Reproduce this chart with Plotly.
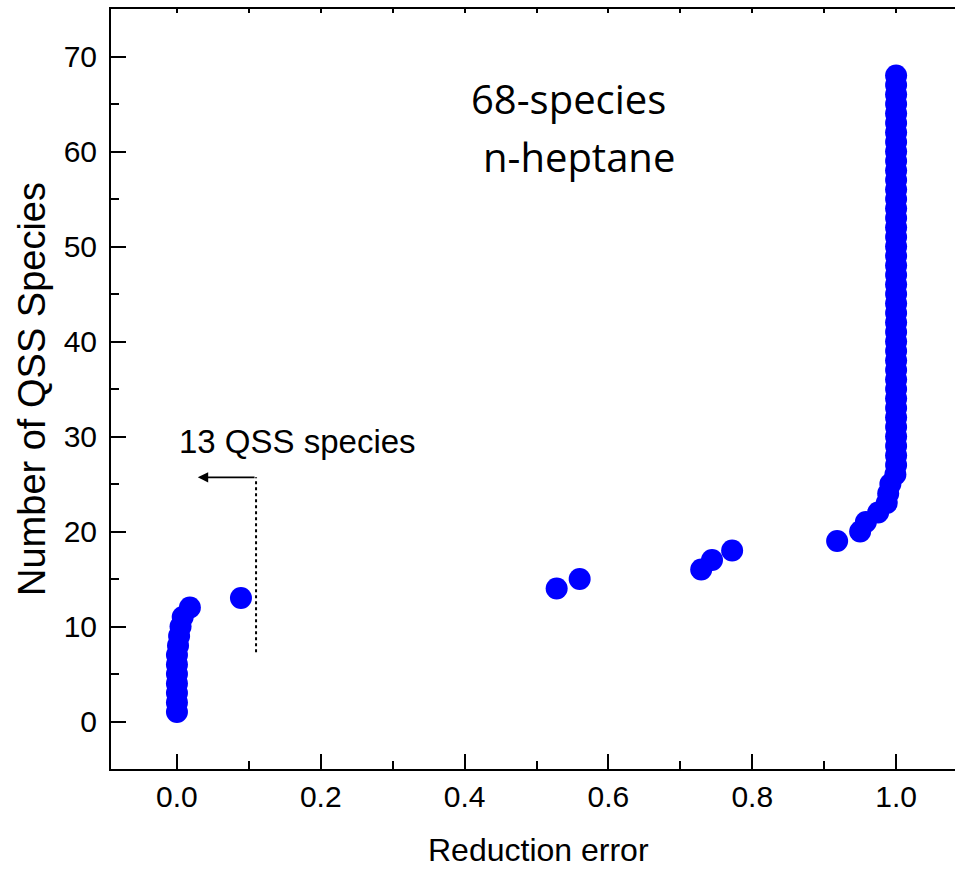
import plotly.graph_objects as go

# Reduction error (x) for each number of QSS species (y)
reduction_error = [
    0.0, 0.0, 0.0, 0.0, 0.0, 0.0, 0.0, 0.0015, 0.003, 0.005,
    0.008, 0.018, 0.089, 0.528, 0.560, 0.729, 0.744, 0.772, 0.918, 0.950,
    0.958, 0.975, 0.987, 0.989, 0.992, 0.999, 1.0, 1.0, 1.0, 1.0,
    1.0, 1.0, 1.0, 1.0, 1.0, 1.0, 1.0, 1.0, 1.0, 1.0,
    1.0, 1.0, 1.0, 1.0, 1.0, 1.0, 1.0, 1.0, 1.0, 1.0,
    1.0, 1.0, 1.0, 1.0, 1.0, 1.0, 1.0, 1.0, 1.0, 1.0,
    1.0, 1.0, 1.0, 1.0, 1.0, 1.0, 1.0, 1.0,
]
num_qss = [
    1, 2, 3, 4, 5, 6, 7, 8, 9, 10,
    11, 12, 13, 14, 15, 16, 17, 18, 19, 20,
    21, 22, 23, 24, 25, 26, 27, 28, 29, 30,
    31, 32, 33, 34, 35, 36, 37, 38, 39, 40,
    41, 42, 43, 44, 45, 46, 47, 48, 49, 50,
    51, 52, 53, 54, 55, 56, 57, 58, 59, 60,
    61, 62, 63, 64, 65, 66, 67, 68,
]

x_tickvals = [0.0, 0.2, 0.4, 0.6, 0.8, 1.0]
x_ticktext = ["0.0", "0.2", "0.4", "0.6", "0.8", "1.0"]
y_tickvals = [0, 10, 20, 30, 40, 50, 60, 70]

cutoff_x = 0.11
cutoff_y = [7.3, 25.7]
arrow_tip_x = 0.029

X_RANGE = [-0.0917, 1.0819]
Y_RANGE = [-5, 75]

TICK_FONT = dict(family="Liberation Sans Narrow, Liberation Sans, Arial", size=30, color="black")
TITLE_FONT = dict(family="Liberation Sans, Arial", size=32, color="black")

fig = go.Figure()
fig.add_trace(go.Scatter(
    x=reduction_error, y=num_qss, mode="markers",
    marker=dict(size=22, color="#0000FF", line=dict(width=0)),
    showlegend=False, hoverinfo="skip",
))
# dotted cutoff line
fig.add_trace(go.Scatter(
    x=[cutoff_x, cutoff_x], y=cutoff_y, mode="lines",
    line=dict(color="black", width=2, dash="dot"),
    showlegend=False, hoverinfo="skip",
))

fig.add_annotation(x=arrow_tip_x, y=cutoff_y[1], ax=cutoff_x, ay=cutoff_y[1],
                   xref="x", yref="y", axref="x", ayref="y", text="",
                   showarrow=True, arrowhead=2, arrowsize=1.3, arrowwidth=1.6,
                   arrowcolor="black")
fig.add_annotation(x=0.0, y=29.5, xref="x", yref="y", text="13 QSS species",
                   showarrow=False, xanchor="left", yanchor="middle",
                   font=dict(family="Liberation Sans, Arial", size=33, color="black"))
fig.add_annotation(x=0.545, y=65.6, xref="x", yref="y", text="68-species",
                   showarrow=False, xanchor="center", yanchor="middle",
                   font=dict(family="Open Sans, Noto Sans", size=40, color="black"))
fig.add_annotation(x=0.559, y=59.5, xref="x", yref="y", text="n-heptane",
                   showarrow=False, xanchor="center", yanchor="middle",
                   font=dict(family="Open Sans, Noto Sans", size=40, color="black"))
# x-axis title
fig.add_annotation(x=0.506, y=-0.106, xref="paper", yref="paper", text="Reduction error",
                   showarrow=False, xanchor="center", yanchor="middle", font=TITLE_FONT)

fig.update_layout(
    width=955, height=869,
    margin=dict(l=111, r=0, t=9, b=100),
    paper_bgcolor="white", plot_bgcolor="white",
    xaxis=dict(
        range=X_RANGE, tickvals=x_tickvals, ticktext=x_ticktext,
        ticks="inside", ticklen=15, tickwidth=2, tickcolor="black",
        minor=dict(dtick=0.1, tick0=0, ticks="inside", ticklen=8, tickwidth=2, tickcolor="black"),
        showline=True, linecolor="black", linewidth=2, mirror=True,
        showgrid=False, zeroline=False, tickfont=TICK_FONT,
    ),
    xaxis2=dict(
        range=X_RANGE, overlaying="x", side="top", anchor="y",
        tick0=0, dtick=0.1, ticks="inside", ticklen=4, tickwidth=2, tickcolor="black",
        showticklabels=False, showgrid=False, zeroline=False, showline=False,
    ),
    yaxis=dict(
        range=Y_RANGE, tickvals=y_tickvals,
        ticks="inside", ticklen=15, tickwidth=2, tickcolor="black",
        minor=dict(dtick=5, tick0=0, ticks="inside", ticklen=8, tickwidth=2, tickcolor="black"),
        showline=True, linecolor="black", linewidth=2, mirror=False,
        showgrid=False, zeroline=False, tickfont=TICK_FONT, ticklabelstandoff=6,
        title=dict(text="Number of QSS Species", font=dict(family="Liberation Sans, Arial", size=38, color="black"), standoff=6),
    ),
)
# invisible trace to activate top axis ticks
fig.add_trace(go.Scatter(x=[None], y=[None], xaxis="x2", yaxis="y", showlegend=False, hoverinfo="skip"))

fig.write_html("out.html")
